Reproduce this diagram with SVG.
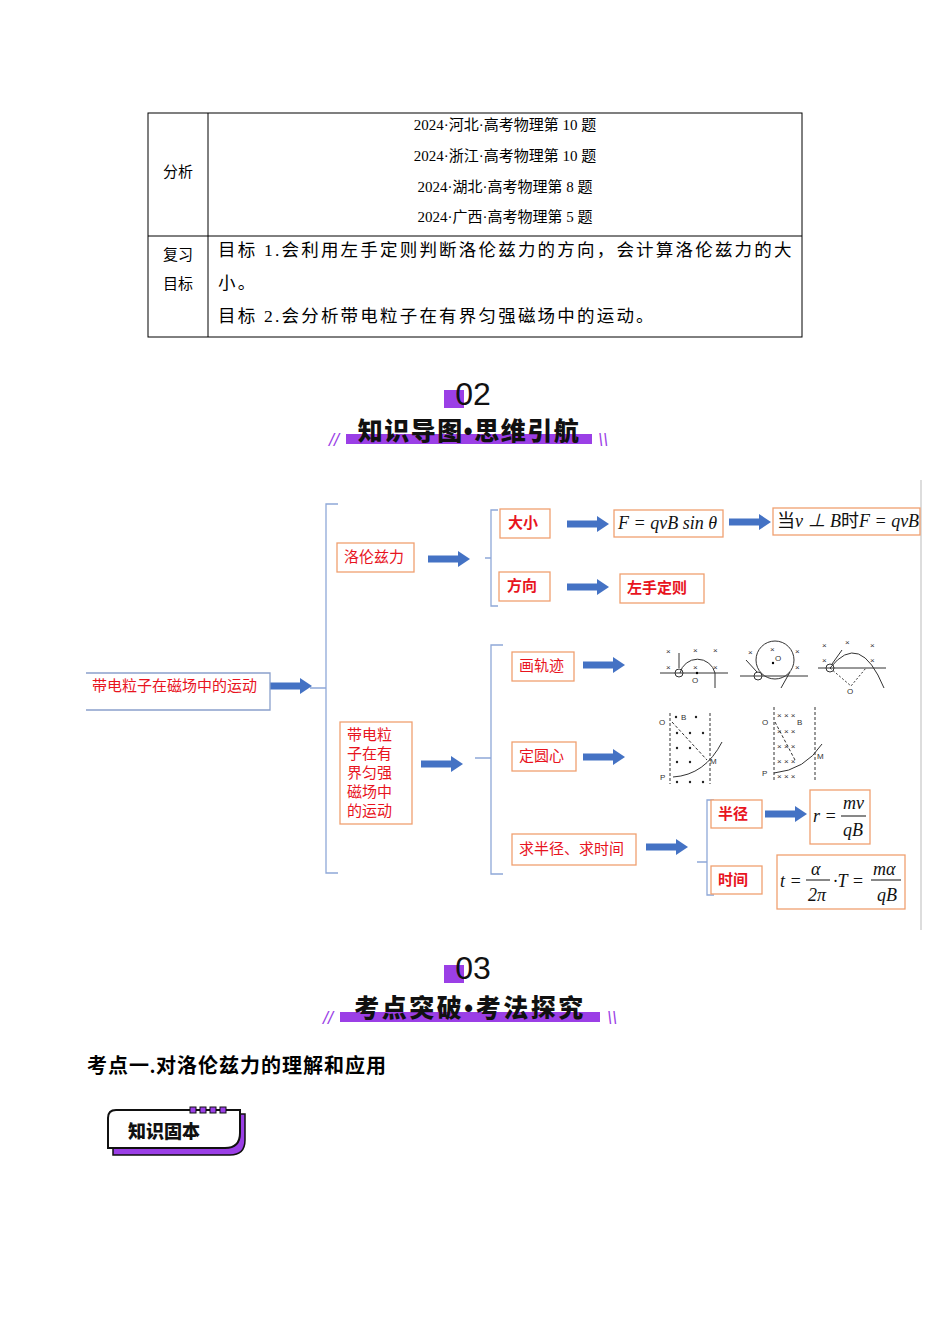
<svg xmlns="http://www.w3.org/2000/svg" width="950" height="1344" viewBox="0 0 950 1344">
<defs>
<style>
.t{font-family:"Liberation Serif","Noto Sans CJK SC",serif;font-size:15px;fill:#000}
.r{font-family:"Noto Sans CJK SC",sans-serif;font-size:15px;fill:#e8141e}
.box{fill:#fff;stroke:#f0a070;stroke-width:1.3}
.br{fill:none;stroke:#8fa8d8;stroke-width:1.3}
.ar{fill:#4472c4}
.m{font-family:"Liberation Serif","Noto Sans CJK SC",serif;font-style:italic;font-size:18px;fill:#111}
.s{stroke:#333;stroke-width:1;fill:none}
.x{font-family:"Liberation Sans",sans-serif;font-size:8px;fill:#333}
.h{font-family:"Noto Sans CJK SC",sans-serif;font-weight:900;font-size:25px;fill:#111}
</style>
<path id="A" class="ar" d="M0,-3.5H30V-8L42,0L30,8V3.5H0Z"/>
</defs>
<g id="table">
<rect x="148" y="113" width="654" height="224" fill="none" stroke="#000"/>
<line x1="208" y1="113" x2="208" y2="337" stroke="#000"/>
<line x1="148" y1="236" x2="802" y2="236" stroke="#000"/>
<text class="t" x="178" y="177" text-anchor="middle">分析</text>
<text class="t" x="505" y="130" text-anchor="middle">2024·河北·高考物理第 10 题</text>
<text class="t" x="505" y="161" text-anchor="middle">2024·浙江·高考物理第 10 题</text>
<text class="t" x="505" y="192" text-anchor="middle">2024·湖北·高考物理第 8 题</text>
<text class="t" x="505" y="222" text-anchor="middle">2024·广西·高考物理第 5 题</text>
<text class="t" x="163" y="260">复习</text>
<text class="t" x="163" y="289">目标</text>
<text class="t" x="218" y="256" style="font-size:17.5px;letter-spacing:2.2px">目标 1.会利用左手定则判断洛伦兹力的方向，会计算洛伦兹力的大</text>
<text class="t" x="218" y="289" style="font-size:17.5px;letter-spacing:2.2px">小。</text>
<text class="t" x="218" y="322" style="font-size:17.5px;letter-spacing:2.2px">目标 2.会分析带电粒子在有界匀强磁场中的运动。</text>
</g>
<g id="h02">
<rect x="444" y="390" width="20" height="18" fill="#9b3fe6"/>
<text x="473" y="405" font-family="Liberation Sans,sans-serif" font-size="32" fill="#111" text-anchor="middle">02</text>
<rect x="346" y="434" width="246" height="10" fill="#9b3fe6"/>
<text class="h" x="469" y="440" text-anchor="middle" letter-spacing="1.5">知识导图<tspan font-family="Liberation Sans,sans-serif">•</tspan>思维引航</text>
<text x="334" y="446" font-family="Liberation Sans,sans-serif" font-size="18" fill="#9b3fe6" font-style="italic" text-anchor="middle">//</text>
<text x="603" y="446" font-family="Liberation Sans,sans-serif" font-size="18" fill="#9b3fe6" font-style="italic" text-anchor="middle">\\</text>
</g>
<g id="connectors">
<path class="br" d="M338,504H326V688Q324,688 310,688M326,688V873H338"/>
<path class="br" d="M498,510H491V558H485M491,558V606H498"/>
<path class="br" d="M503,645H491V758H475M491,758V874H503"/>
<path class="br" d="M714,800H707V862H697M707,862V895H714"/>
<use href="#A" x="270" y="686"/>
<use href="#A" x="428" y="559"/>
<use href="#A" x="567" y="524"/>
<use href="#A" x="729" y="522"/>
<use href="#A" x="567" y="587"/>
<use href="#A" x="421" y="764"/>
<use href="#A" x="583" y="665"/>
<use href="#A" x="583" y="757"/>
<use href="#A" x="765" y="814"/>
<use href="#A" x="646" y="847"/>
<line x1="921" y1="480" x2="921" y2="930" stroke="#ddd" stroke-width="2"/>
</g>
<g id="root"><path d="M86,673H270V710H86" fill="#fff" stroke="#8aa0cc" stroke-width="1.3"/><text class="r" x="92" y="691">带电粒子在磁场中的运动</text></g>
<g id="n1"><rect class="box" x="337" y="543" width="77" height="29"/><text class="r" x="344" y="562">洛伦兹力</text></g>
<g id="n2"><rect class="box" x="340" y="722" width="72" height="102"/><text class="r" x="347" y="740">带电粒</text><text class="r" x="347" y="759">子在有</text><text class="r" x="347" y="778">界匀强</text><text class="r" x="347" y="797">磁场中</text><text class="r" x="347" y="816">的运动</text></g>
<g id="n3"><rect class="box" x="500" y="509" width="50" height="29"/><text class="r" x="508" y="528" font-weight="bold">大小</text></g>
<g id="n4"><rect class="box" x="499" y="572" width="51" height="29"/><text class="r" x="507" y="591" font-weight="bold">方向</text></g>
<g id="n5"><rect class="box" x="614" y="510" width="109" height="27"/><text class="m" x="618" y="529">F = qvB sin θ</text></g>
<g id="n6"><rect class="box" x="773" y="508" width="147" height="27"/><text class="m" x="777" y="527"><tspan font-style="normal">当</tspan>v ⊥ B<tspan font-style="normal">时</tspan>F = qvB</text></g>
<g id="n7"><rect class="box" x="620" y="574" width="84" height="29"/><text class="r" x="627" y="593" font-weight="bold">左手定则</text></g>
<g id="n8"><rect class="box" x="512" y="652" width="62" height="29"/><text class="r" x="519" y="671">画轨迹</text></g>
<g id="n9"><rect class="box" x="512" y="742" width="64" height="29"/><text class="r" x="519" y="761">定圆心</text></g>
<g id="n10"><rect class="box" x="512" y="834" width="124" height="31"/><text class="r" x="519" y="854">求半径、求时间</text></g>
<g id="n11"><rect class="box" x="711" y="800" width="51" height="28"/><text class="r" x="718" y="819" font-weight="bold">半径</text></g>
<g id="n12"><rect class="box" x="711" y="866" width="51" height="28"/><text class="r" x="718" y="885" font-weight="bold">时间</text></g>
<g id="n13"><rect class="box" x="810" y="790" width="60" height="54"/><text class="m" x="813" y="822">r =</text><text class="m" x="843" y="809">mv</text><line x1="841" y1="816" x2="866" y2="816" stroke="#111"/><text class="m" x="843" y="836">qB</text></g>
<g id="n14"><rect class="box" x="777" y="855" width="128" height="54"/><text class="m" x="780" y="887">t =</text><text class="m" x="811" y="875">α</text><line x1="806" y1="880" x2="830" y2="880" stroke="#111"/><text class="m" x="808" y="901">2π</text><text class="m" x="833" y="887">·T =</text><text class="m" x="873" y="875">mα</text><line x1="871" y1="880" x2="901" y2="880" stroke="#111"/><text class="m" x="877" y="901">qB</text></g>
<g id="sketches">
<line class="s" x1="660" y1="673" x2="728" y2="673"/><path class="s" d="M680,673A18,18 0 0 1 715,673V688"/><circle class="s" cx="679" cy="673" r="4"/><line class="s" x1="679" y1="668" x2="679" y2="653"/><circle cx="697" cy="673" r="1.2"/><text class="x" x="692" y="683">O</text>
<text class="x" x="666" y="654">×</text><text class="x" x="693" y="653">×</text><text class="x" x="713" y="653">×</text><text class="x" x="666" y="670">×</text><text class="x" x="693" y="670">×</text><text class="x" x="713" y="670">×</text>
<line class="s" x1="740" y1="676" x2="808" y2="676"/><circle class="s" cx="775" cy="660" r="19"/><circle class="s" cx="758" cy="676" r="4"/><line class="s" x1="757" y1="672" x2="746" y2="660"/><circle cx="773" cy="663" r="1.2"/><text class="x" x="775" y="661">O</text><line class="s" x1="790" y1="672" x2="781" y2="688"/>
<text class="x" x="748" y="655">×</text><text class="x" x="770" y="652">×</text><text class="x" x="795" y="654">×</text><text class="x" x="795" y="670">×</text>
<line class="s" x1="818" y1="668" x2="886" y2="668"/><path class="s" d="M830,668Q860,630 884,688"/><circle class="s" cx="830" cy="668" r="4"/><path class="s" d="M830,668L851,686L866,668" stroke-dasharray="2 2"/><text class="x" x="847" y="694">O</text><line class="s" x1="832" y1="664" x2="842" y2="650"/>
<text class="x" x="822" y="648">×</text><text class="x" x="845" y="645">×</text><text class="x" x="870" y="648">×</text><text class="x" x="822" y="663">×</text><text class="x" x="870" y="663">×</text>
<line class="s" x1="670" y1="713" x2="670" y2="784" stroke-dasharray="3 2"/><line class="s" x1="710" y1="713" x2="710" y2="784" stroke-dasharray="3 2"/><path class="s" d="M673,777Q705,775 722,742"/><line class="s" x1="672" y1="722" x2="707" y2="760" stroke-dasharray="3 2"/><text class="x" x="659" y="725">O</text><text class="x" x="660" y="780">P</text><text class="x" x="710" y="764">M</text><text class="x" x="681" y="720">B</text>
<g fill="#222"><circle cx="676" cy="717" r="1.2"/><circle cx="696" cy="717" r="1.2"/><circle cx="677" cy="733" r="1.2"/><circle cx="690" cy="733" r="1.2"/><circle cx="703" cy="733" r="1.2"/><circle cx="677" cy="748" r="1.2"/><circle cx="690" cy="748" r="1.2"/><circle cx="677" cy="762" r="1.2"/><circle cx="690" cy="762" r="1.2"/><circle cx="677" cy="782" r="1.2"/><circle cx="690" cy="782" r="1.2"/><circle cx="703" cy="782" r="1.2"/></g>
<line class="s" x1="774" y1="707" x2="774" y2="780" stroke-dasharray="3 2"/><line class="s" x1="815" y1="707" x2="815" y2="780" stroke-dasharray="3 2"/><path class="s" d="M774,773Q805,770 822,744"/><line class="s" x1="775" y1="722" x2="795" y2="760" stroke-dasharray="3 2"/><text class="x" x="762" y="725">O</text><text class="x" x="762" y="776">P</text><text class="x" x="817" y="759">M</text><text class="x" x="797" y="725">B</text>
<text class="x" x="777" y="718">× × ×</text><text class="x" x="777" y="734">× × ×</text><text class="x" x="777" y="749">× × ×</text><text class="x" x="777" y="764">× × ×</text><text class="x" x="777" y="779">× × ×</text>
</g>
<g id="h03">
<rect x="444" y="965" width="20" height="18" fill="#9b3fe6"/>
<text x="473" y="979" font-family="Liberation Sans,sans-serif" font-size="32" fill="#111" text-anchor="middle">03</text>
<rect x="340" y="1012" width="260" height="10" fill="#9b3fe6"/>
<text class="h" x="470" y="1017" text-anchor="middle" letter-spacing="2.5">考点突破<tspan font-family="Liberation Sans,sans-serif">•</tspan>考法探究</text>
<text x="328" y="1024" font-family="Liberation Sans,sans-serif" font-size="18" fill="#9b3fe6" font-style="italic" text-anchor="middle">//</text>
<text x="612" y="1024" font-family="Liberation Sans,sans-serif" font-size="18" fill="#9b3fe6" font-style="italic" text-anchor="middle">\\</text>
</g>
<text x="87" y="1073" font-family="Liberation Serif,Noto Sans CJK SC,serif" font-weight="bold" font-size="20" fill="#000" letter-spacing="1">考点一.对洛伦兹力的理解和应用</text>
<g id="badge">
<path d="M113,1120Q113,1114 119,1114H245V1140Q245,1155 230,1155H113Z" fill="#9b3fe6" stroke="#111" stroke-width="1.5"/>
<path d="M108,1118Q108,1110 116,1110H240V1133Q240,1148 225,1148H108Z" fill="#fff" stroke="#111" stroke-width="2"/>
<g fill="#9b3fe6" stroke="#111" stroke-width="1"><rect x="190" y="1107" width="6" height="6"/><rect x="200" y="1107" width="6" height="6"/><rect x="210" y="1107" width="6" height="6"/><rect x="220" y="1107" width="6" height="6"/></g>
<text x="128" y="1138" font-family="Noto Sans CJK SC,sans-serif" font-weight="900" font-size="18" fill="#111">知识固本</text>
</g>
</svg>
